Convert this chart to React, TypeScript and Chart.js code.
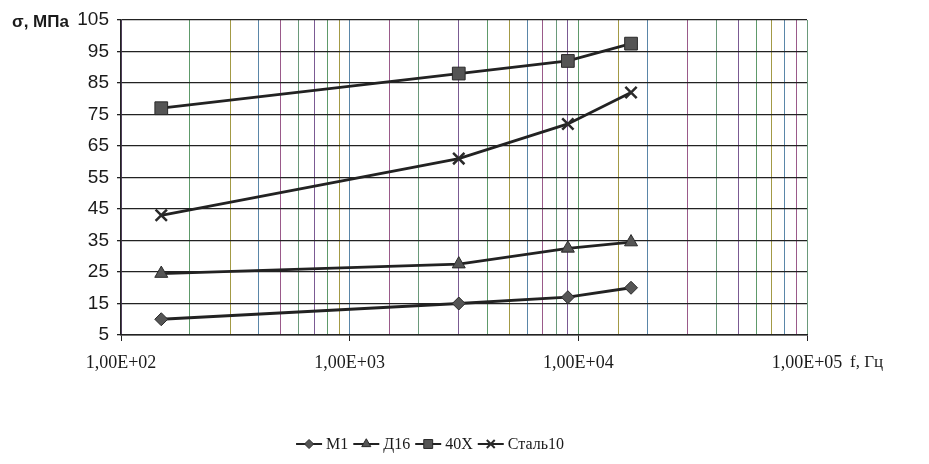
import React, { useEffect, useRef } from 'react';
import { Chart, registerables } from 'chart.js';

Chart.register(...registerables);

// ---- data ----
const frequencies = [150, 3000, 9000, 17000];
const seriesM1 = [10, 15, 17, 20];
const seriesD16 = [24.5, 27.5, 32.5, 34.5];
const series40X = [77, 88, 92, 97.5];
const seriesSteel10 = [43, 61, 72, 82];
const seriesNames = ['М1', 'Д16', '40Х', 'Сталь10'];
const seriesMarkers = ['rectRot', 'triangle', 'rect', 'crossRot'];
const seriesMarkerSizes = [6.5, 7.5, 9, 8];
const yMin = 5;
const yMax = 105;
const yStep = 10;
const xMin = 100;
const xMax = 100000;
const yTitle = 'σ, МПа';
const xTitle = 'f, Гц';

const gridColors = ['#7b5a93', '#5e9a6a', '#a39a45', '#5a86a8', '#9a5a8a', '#6a9a7a'];

function isDecade(v: number) {
  const e = Math.log10(v);
  return Math.abs(e - Math.round(e)) < 1e-9;
}

function fmtSci(v: number) {
  const e = Math.round(Math.log10(v));
  const m = v / Math.pow(10, e);
  return m.toFixed(2).replace('.', ',') + 'E+' + String(e).padStart(2, '0');
}

function drawMarker(ctx: CanvasRenderingContext2D, style: string, x: number, y: number, r: number) {
  ctx.save();
  ctx.fillStyle = '#555';
  ctx.strokeStyle = '#2a2a2a';
  ctx.lineWidth = 1;
  ctx.beginPath();
  if (style === 'rectRot') {
    ctx.moveTo(x, y - r);
    ctx.lineTo(x + r, y);
    ctx.lineTo(x, y + r);
    ctx.lineTo(x - r, y);
    ctx.closePath();
    ctx.fill();
    ctx.stroke();
  } else if (style === 'triangle') {
    ctx.moveTo(x, y - r);
    ctx.lineTo(x + r * 0.866, y + r * 0.5);
    ctx.lineTo(x - r * 0.866, y + r * 0.5);
    ctx.closePath();
    ctx.fill();
    ctx.stroke();
  } else if (style === 'rect') {
    const s = r * Math.SQRT1_2;
    ctx.rect(x - s, y - s, 2 * s, 2 * s);
    ctx.fill();
    ctx.stroke();
  } else {
    const s = r * Math.SQRT1_2;
    ctx.lineWidth = 2;
    ctx.moveTo(x - s, y - s);
    ctx.lineTo(x + s, y + s);
    ctx.moveTo(x + s, y - s);
    ctx.lineTo(x - s, y + s);
    ctx.stroke();
  }
  ctx.restore();
}

const extrasPlugin = {
  id: 'extras',
  afterDraw(chart: any) {
    const ctx: CanvasRenderingContext2D = chart.ctx;
    ctx.save();
    // axis titles
    ctx.fillStyle = '#1a1a1a';
    ctx.font = 'bold 17px "Liberation Sans", Arial, sans-serif';
    ctx.textAlign = 'left';
    ctx.textBaseline = 'middle';
    ctx.fillText(yTitle, 4, 14);
    ctx.font = '17px "Liberation Serif", "Times New Roman", serif';
    ctx.fillText(xTitle, 842, 355);

    // legend
    ctx.font = '16px "Liberation Serif", "Times New Roman", serif';
    const iconW = 26;
    const gapText = 4;
    const gapItem = 5;
    const widths = seriesNames.map((n) => ctx.measureText(n).width);
    const total = widths.reduce((a, w) => a + iconW + gapText + w, 0) + gapItem * (seriesNames.length - 1);
    let x = 422 - total / 2;
    const y = 436;
    seriesNames.forEach((name, i) => {
      ctx.strokeStyle = '#222';
      ctx.lineWidth = 2;
      ctx.beginPath();
      ctx.moveTo(x, y);
      ctx.lineTo(x + iconW, y);
      ctx.stroke();
      drawMarker(ctx, seriesMarkers[i], x + iconW / 2, y, seriesMarkerSizes[i] * 0.7);
      ctx.fillStyle = '#1a1a1a';
      ctx.textAlign = 'left';
      ctx.textBaseline = 'middle';
      ctx.fillText(name, x + iconW + gapText, y + 1);
      x += iconW + gapText + widths[i] + gapItem;
    });
    ctx.restore();
  },
};

function toPoints(values: number[]) {
  return values.map((v, i) => ({ x: frequencies[i], y: v }));
}

export default function App() {
  const ref = useRef<HTMLCanvasElement>(null);
  useEffect(() => {
    if (!ref.current) return;
    const allSeries = [seriesM1, seriesD16, series40X, seriesSteel10];
    const chart = new Chart(ref.current, {
      type: 'line',
      data: {
        datasets: allSeries.map((vals, i) => ({
          label: seriesNames[i],
          data: toPoints(vals),
          borderColor: '#222',
          borderWidth: 2.8,
          pointStyle: seriesMarkers[i] as any,
          pointRadius: seriesMarkerSizes[i],
          pointBackgroundColor: '#555',
          pointBorderColor: '#2a2a2a',
          pointBorderWidth: i === 3 ? 2.5 : 1,
          tension: 0,
          fill: false,
        })),
      },
      options: {
        animation: false,
        responsive: false,
        layout: { padding: { left: 0, right: 114, top: 12, bottom: 0 } },
        plugins: {
          legend: { display: false },
          tooltip: { enabled: false },
        },
        scales: {
          x: {
            type: 'logarithmic',
            min: xMin,
            max: xMax,
            afterFit: (scale: any) => {
              scale.height = 121;
            },
            grid: {
              color: (c: any) => gridColors[(c.index || 0) % gridColors.length],
              lineWidth: 1,
              tickLength: 6,
              tickColor: (c: any) => (c.tick && isDecade(c.tick.value) ? '#222' : 'rgba(0,0,0,0)'),
            },
            border: { display: true, color: '#222', width: 1.5 },
            ticks: {
              autoSkip: false,
              maxRotation: 0,
              minRotation: 0,
              padding: 11,
              color: '#1a1a1a',
              font: { family: '"Liberation Serif", "Times New Roman", serif', size: 18 },
              callback: (v: any) => (isDecade(Number(v)) ? fmtSci(Number(v)) : ''),
            },
          },
          y: {
            type: 'linear',
            min: yMin,
            max: yMax,
            afterFit: (scale: any) => {
              scale.width = 113;
              scale.paddingTop = 0;
              scale.paddingBottom = 0;
            },
            grid: { color: '#222', lineWidth: 1.3, tickLength: 4, tickColor: '#222' },
            border: { display: true, color: '#222', width: 1.5 },
            ticks: {
              stepSize: yStep,
              padding: 8,
              color: '#1a1a1a',
              font: { family: '"Liberation Sans", Arial, sans-serif', size: 19 },
            },
          },
        },
      },
      plugins: [extrasPlugin],
    });
    return () => chart.destroy();
  }, []);
  return <canvas ref={ref} width={913} height={448} style={{ display: 'block' }} />;
}
